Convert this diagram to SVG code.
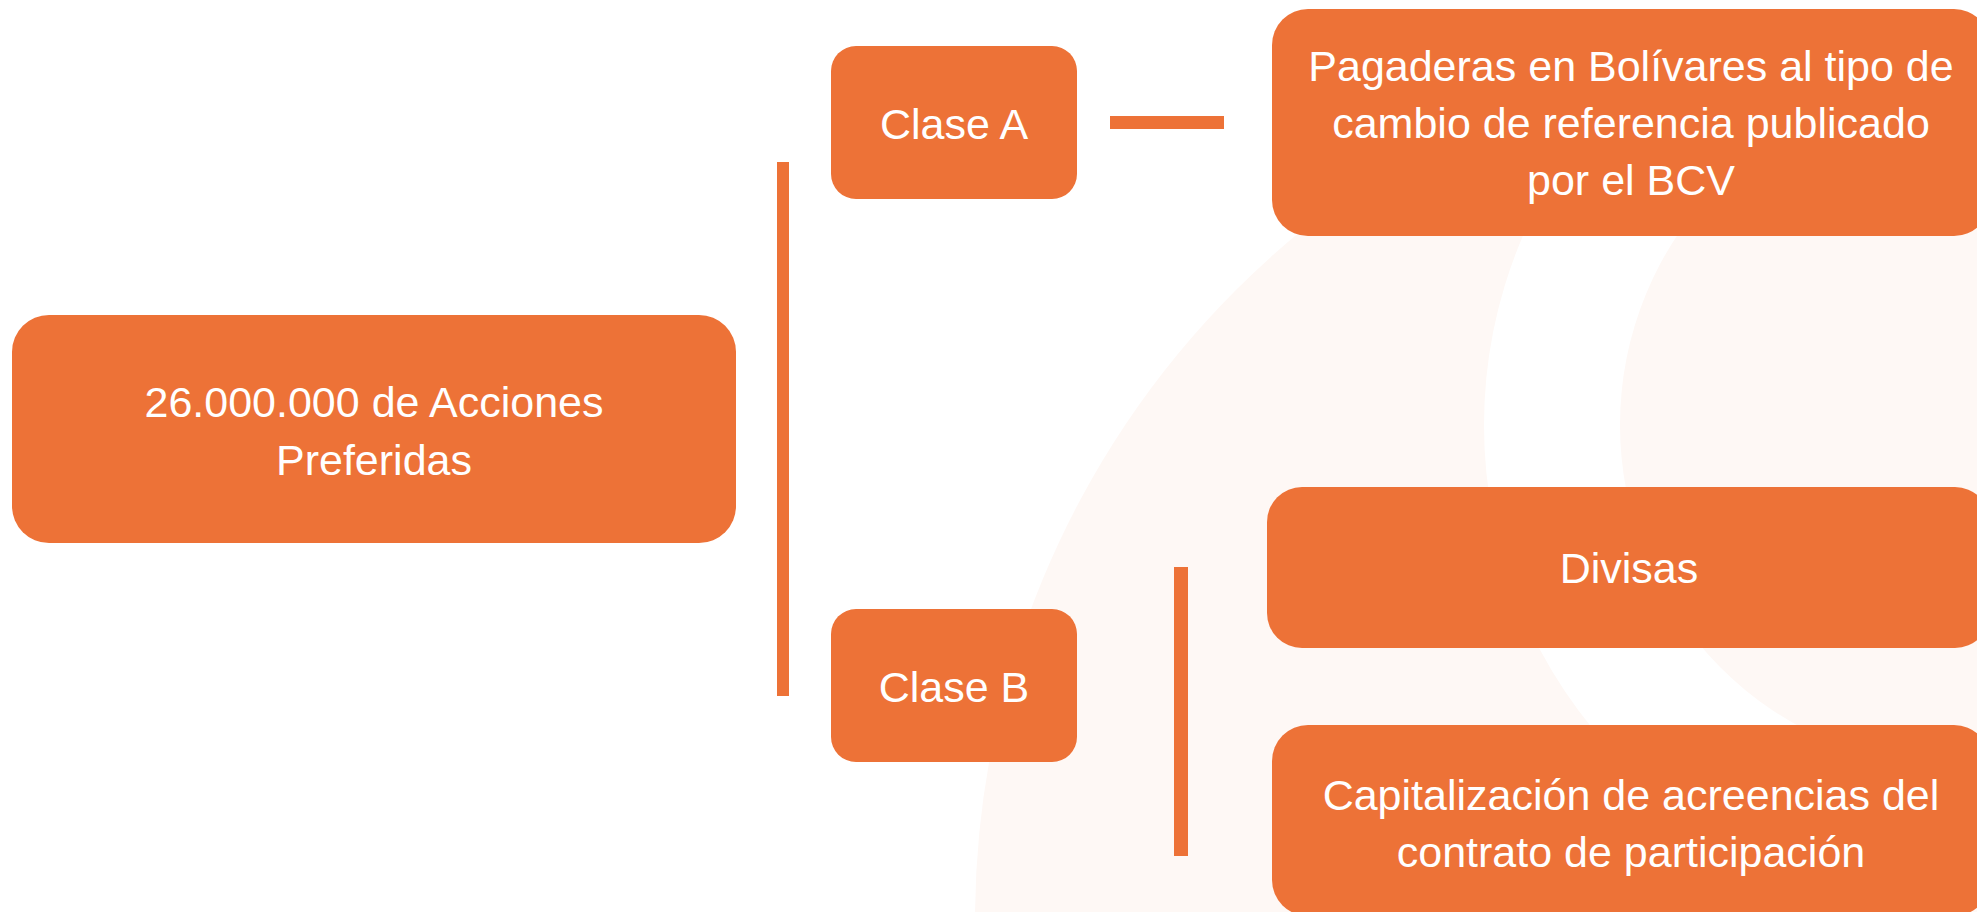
<svg xmlns="http://www.w3.org/2000/svg" width="1977" height="912" viewBox="0 0 1977 912">
  <style>
    .box { fill: #ED7237; }
    .lbl { fill: #FFFFFF; font-family: "Liberation Sans", Arial, sans-serif; font-size: 43px; text-anchor: middle; }
    .bar { fill: #ED7237; }
  </style>
  <rect x="0" y="0" width="1977" height="912" fill="#FFFFFF"/>
  <g id="background">
    <circle cx="1866" cy="920" r="891" fill="#FEF8F5"/>
    <path d="M1963 425 m-479 0 a479 479 0 1 0 958 0 a479 479 0 1 0 -958 0 Z M1963 425 m-343 0 a343 343 0 1 1 686 0 a343 343 0 1 1 -686 0 Z" fill="#FFFFFF" fill-rule="evenodd"/>
  </g>
  <g id="connectors">
    <rect class="bar" x="777" y="162" width="12" height="534"/>
    <rect class="bar" x="1110" y="116" width="114" height="13"/>
    <rect class="bar" x="1174" y="567" width="14" height="289"/>
  </g>
  <g id="node-main">
    <rect class="box" x="12" y="315" width="724" height="228" rx="37" ry="37"/>
    <text class="lbl" x="374" y="417">26.000.000 de Acciones</text>
    <text class="lbl" x="374" y="475">Preferidas</text>
  </g>
  <g id="node-clase-a">
    <rect class="box" x="831" y="46" width="246" height="153" rx="25" ry="25"/>
    <text class="lbl" x="954" y="139">Clase A</text>
  </g>
  <g id="node-clase-b">
    <rect class="box" x="831" y="609" width="246" height="153" rx="25" ry="25"/>
    <text class="lbl" x="954" y="702">Clase B</text>
  </g>
  <g id="node-pagaderas">
    <rect class="box" x="1272" y="9" width="718" height="227" rx="36" ry="36"/>
    <text class="lbl" x="1631" y="81">Pagaderas en Bolívares al tipo de</text>
    <text class="lbl" x="1631" y="138">cambio de referencia publicado</text>
    <text class="lbl" x="1631" y="195">por el BCV</text>
  </g>
  <g id="node-divisas">
    <rect class="box" x="1267" y="487" width="723" height="161" rx="35" ry="35"/>
    <text class="lbl" x="1629" y="583">Divisas</text>
  </g>
  <g id="node-capitalizacion">
    <rect class="box" x="1272" y="725" width="718" height="191" rx="36" ry="36"/>
    <text class="lbl" x="1631" y="810">Capitalización de acreencias del</text>
    <text class="lbl" x="1631" y="867">contrato de participación</text>
  </g>
</svg>
